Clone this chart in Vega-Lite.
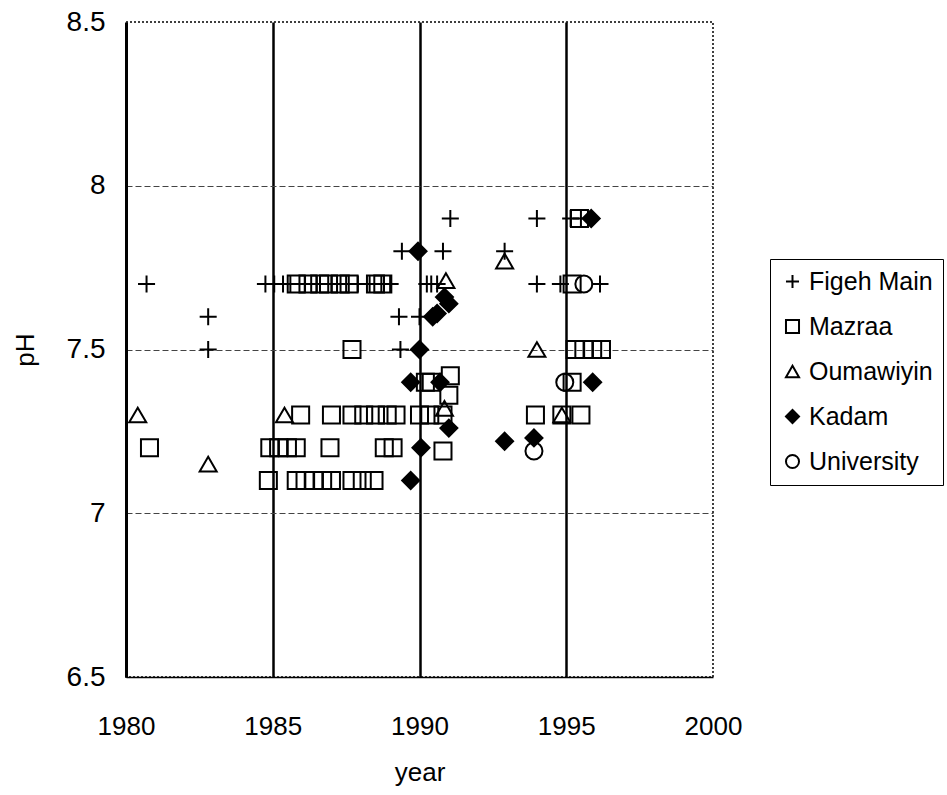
{
  "$schema": "https://vega.github.io/schema/vega-lite/v6.json",
  "width": 587,
  "height": 655,
  "autosize": {"type": "none"},
  "padding": {"left": 126, "top": 22, "right": 234, "bottom": 118},
  "background": "white",
  "config": {
    "view": {"stroke": "black", "strokeDash": [2, 2], "strokeWidth": 1.5},
    "font": "Liberation Sans",
    "legend": {
      "orient": "none",
      "legendX": 644,
      "legendY": 237,
      "title": null,
      "padding": 10,
      "strokeColor": "black",
      "fillColor": "white",
      "labelFontSize": 25,
      "labelColor": "black",
      "labelFont": "Liberation Sans",
      "labelOffset": 4,
      "rowPadding": 19,
      "symbolSize": 170,
      "symbolStrokeWidth": 2
    }
  },
  "data": {
    "values": [
      {"series": "Figeh Main", "year": 1980.7, "pH": 7.7},
      {"series": "Figeh Main", "year": 1982.8, "pH": 7.6},
      {"series": "Figeh Main", "year": 1982.8, "pH": 7.5},
      {"series": "Figeh Main", "year": 1984.75, "pH": 7.7},
      {"series": "Figeh Main", "year": 1985.05, "pH": 7.7},
      {"series": "Figeh Main", "year": 1985.35, "pH": 7.7},
      {"series": "Figeh Main", "year": 1985.6, "pH": 7.7},
      {"series": "Figeh Main", "year": 1986.1, "pH": 7.7},
      {"series": "Figeh Main", "year": 1986.5, "pH": 7.7},
      {"series": "Figeh Main", "year": 1987.0, "pH": 7.7},
      {"series": "Figeh Main", "year": 1987.5, "pH": 7.7},
      {"series": "Figeh Main", "year": 1987.9, "pH": 7.7},
      {"series": "Figeh Main", "year": 1988.3, "pH": 7.7},
      {"series": "Figeh Main", "year": 1988.7, "pH": 7.7},
      {"series": "Figeh Main", "year": 1989.0, "pH": 7.7},
      {"series": "Figeh Main", "year": 1989.4, "pH": 7.8},
      {"series": "Figeh Main", "year": 1989.3, "pH": 7.6},
      {"series": "Figeh Main", "year": 1989.35, "pH": 7.5},
      {"series": "Figeh Main", "year": 1990.0, "pH": 7.6},
      {"series": "Figeh Main", "year": 1990.8, "pH": 7.8},
      {"series": "Figeh Main", "year": 1991.05, "pH": 7.9},
      {"series": "Figeh Main", "year": 1994.0, "pH": 7.9},
      {"series": "Figeh Main", "year": 1995.15, "pH": 7.9},
      {"series": "Figeh Main", "year": 1995.5, "pH": 7.9},
      {"series": "Figeh Main", "year": 1992.9, "pH": 7.8},
      {"series": "Figeh Main", "year": 1990.25, "pH": 7.7},
      {"series": "Figeh Main", "year": 1990.4, "pH": 7.7},
      {"series": "Figeh Main", "year": 1990.6, "pH": 7.7},
      {"series": "Figeh Main", "year": 1994.0, "pH": 7.7},
      {"series": "Figeh Main", "year": 1994.8, "pH": 7.7},
      {"series": "Figeh Main", "year": 1996.15, "pH": 7.7},
      {"series": "Mazraa", "year": 1980.8, "pH": 7.2},
      {"series": "Mazraa", "year": 1987.7, "pH": 7.5},
      {"series": "Mazraa", "year": 1985.8, "pH": 7.7},
      {"series": "Mazraa", "year": 1986.2, "pH": 7.7},
      {"series": "Mazraa", "year": 1986.6, "pH": 7.7},
      {"series": "Mazraa", "year": 1986.9, "pH": 7.7},
      {"series": "Mazraa", "year": 1987.3, "pH": 7.7},
      {"series": "Mazraa", "year": 1987.6, "pH": 7.7},
      {"series": "Mazraa", "year": 1988.5, "pH": 7.7},
      {"series": "Mazraa", "year": 1988.75, "pH": 7.7},
      {"series": "Mazraa", "year": 1985.95, "pH": 7.3},
      {"series": "Mazraa", "year": 1987.0, "pH": 7.3},
      {"series": "Mazraa", "year": 1987.7, "pH": 7.3},
      {"series": "Mazraa", "year": 1988.1, "pH": 7.3},
      {"series": "Mazraa", "year": 1988.5, "pH": 7.3},
      {"series": "Mazraa", "year": 1988.9, "pH": 7.3},
      {"series": "Mazraa", "year": 1989.2, "pH": 7.3},
      {"series": "Mazraa", "year": 1990.0, "pH": 7.3},
      {"series": "Mazraa", "year": 1990.35, "pH": 7.3},
      {"series": "Mazraa", "year": 1990.8, "pH": 7.3},
      {"series": "Mazraa", "year": 1993.95, "pH": 7.3},
      {"series": "Mazraa", "year": 1994.85, "pH": 7.3},
      {"series": "Mazraa", "year": 1995.5, "pH": 7.3},
      {"series": "Mazraa", "year": 1984.9, "pH": 7.2},
      {"series": "Mazraa", "year": 1985.2, "pH": 7.2},
      {"series": "Mazraa", "year": 1985.5, "pH": 7.2},
      {"series": "Mazraa", "year": 1985.8, "pH": 7.2},
      {"series": "Mazraa", "year": 1986.95, "pH": 7.2},
      {"series": "Mazraa", "year": 1988.8, "pH": 7.2},
      {"series": "Mazraa", "year": 1989.1, "pH": 7.2},
      {"series": "Mazraa", "year": 1990.8, "pH": 7.19},
      {"series": "Mazraa", "year": 1984.85, "pH": 7.1},
      {"series": "Mazraa", "year": 1985.8, "pH": 7.1},
      {"series": "Mazraa", "year": 1986.1, "pH": 7.1},
      {"series": "Mazraa", "year": 1986.4, "pH": 7.1},
      {"series": "Mazraa", "year": 1986.7, "pH": 7.1},
      {"series": "Mazraa", "year": 1987.0, "pH": 7.1},
      {"series": "Mazraa", "year": 1987.7, "pH": 7.1},
      {"series": "Mazraa", "year": 1988.05, "pH": 7.1},
      {"series": "Mazraa", "year": 1988.45, "pH": 7.1},
      {"series": "Mazraa", "year": 1990.2, "pH": 7.4},
      {"series": "Mazraa", "year": 1990.4, "pH": 7.4},
      {"series": "Mazraa", "year": 1991.05, "pH": 7.42},
      {"series": "Mazraa", "year": 1991.0, "pH": 7.36},
      {"series": "Mazraa", "year": 1995.2, "pH": 7.4},
      {"series": "Mazraa", "year": 1995.3, "pH": 7.5},
      {"series": "Mazraa", "year": 1995.6, "pH": 7.5},
      {"series": "Mazraa", "year": 1995.9, "pH": 7.5},
      {"series": "Mazraa", "year": 1996.2, "pH": 7.5},
      {"series": "Mazraa", "year": 1995.2, "pH": 7.7},
      {"series": "Mazraa", "year": 1995.45, "pH": 7.9},
      {"series": "Oumawiyin", "year": 1980.4, "pH": 7.3},
      {"series": "Oumawiyin", "year": 1982.8, "pH": 7.15},
      {"series": "Oumawiyin", "year": 1985.4, "pH": 7.3},
      {"series": "Oumawiyin", "year": 1990.9, "pH": 7.71},
      {"series": "Oumawiyin", "year": 1992.9, "pH": 7.77},
      {"series": "Oumawiyin", "year": 1994.0, "pH": 7.5},
      {"series": "Oumawiyin", "year": 1990.85, "pH": 7.32},
      {"series": "Oumawiyin", "year": 1994.85, "pH": 7.3},
      {"series": "Kadam", "year": 1989.95, "pH": 7.8},
      {"series": "Kadam", "year": 1990.45, "pH": 7.6},
      {"series": "Kadam", "year": 1990.6, "pH": 7.61},
      {"series": "Kadam", "year": 1990.85, "pH": 7.66},
      {"series": "Kadam", "year": 1991.0, "pH": 7.64},
      {"series": "Kadam", "year": 1990.0, "pH": 7.5},
      {"series": "Kadam", "year": 1989.7, "pH": 7.4},
      {"series": "Kadam", "year": 1990.7, "pH": 7.4},
      {"series": "Kadam", "year": 1991.0, "pH": 7.26},
      {"series": "Kadam", "year": 1990.05, "pH": 7.2},
      {"series": "Kadam", "year": 1989.7, "pH": 7.1},
      {"series": "Kadam", "year": 1992.9, "pH": 7.22},
      {"series": "Kadam", "year": 1993.9, "pH": 7.23},
      {"series": "Kadam", "year": 1995.9, "pH": 7.4},
      {"series": "Kadam", "year": 1995.85, "pH": 7.9},
      {"series": "University", "year": 1994.95, "pH": 7.4},
      {"series": "University", "year": 1995.6, "pH": 7.7},
      {"series": "University", "year": 1993.9, "pH": 7.19}
    ]
  },
  "mark": {"type": "point", "filled": false, "strokeWidth": 2, "size": 290, "opacity": 1},
  "encoding": {
    "x": {
      "field": "year",
      "type": "quantitative",
      "scale": {"domain": [1980, 2000], "nice": false, "zero": false},
      "axis": {
        "values": [1980, 1985, 1990, 1995, 2000],
        "format": "d",
        "ticks": false,
        "labelFlush": false,
        "labelOverlap": false,
        "labelFontSize": 26,
        "labelFont": "Liberation Sans",
        "labelColor": "black",
        "labelPadding": 36,
        "domainColor": "black",
        "domainWidth": 1.5,
        "grid": true,
        "gridColor": "black",
        "gridWidth": 2.5,
        "gridOpacity": {"condition": {"test": "datum.value == 1980 || datum.value == 2000", "value": 0}, "value": 1},
        "title": "year",
        "titleFont": "Liberation Sans",
        "titleFontSize": 26,
        "titleFontWeight": "normal",
        "titleColor": "black",
        "titlePadding": 20
      }
    },
    "y": {
      "field": "pH",
      "type": "quantitative",
      "scale": {"domain": [6.5, 8.5], "nice": false, "zero": false},
      "axis": {
        "values": [6.5, 7, 7.5, 8, 8.5],
        "format": "~g",
        "ticks": false,
        "labelFontSize": 28,
        "labelColor": "black",
        "labelPadding": 21,
        "domainColor": "black",
        "domainWidth": 3,
        "grid": true,
        "gridColor": "#444444",
        "gridDash": [6, 3],
        "gridWidth": 1,
        "gridOpacity": {"condition": {"test": "datum.value == 6.5 || datum.value == 8.5", "value": 0}, "value": 1},
        "title": "pH",
        "titleFontSize": 26,
        "titleFontWeight": "normal",
        "titleColor": "black",
        "titlePadding": 28
      }
    },
    "shape": {
      "field": "series",
      "type": "nominal",
      "scale": {
        "domain": ["Figeh Main", "Mazraa", "Oumawiyin", "Kadam", "University"],
        "range": ["M-1,0L1,0M0,-1L0,1", "square", "triangle-up", "diamond", "circle"]
      }
    },
    "fill": {
      "field": "series",
      "type": "nominal",
      "scale": {
        "domain": ["Figeh Main", "Mazraa", "Oumawiyin", "Kadam", "University"],
        "range": ["transparent", "transparent", "transparent", "black", "transparent"]
      }
    },
    "stroke": {
      "field": "series",
      "type": "nominal",
      "scale": {
        "domain": ["Figeh Main", "Mazraa", "Oumawiyin", "Kadam", "University"],
        "range": ["black", "black", "black", "black", "black"]
      }
    }
  }
}
